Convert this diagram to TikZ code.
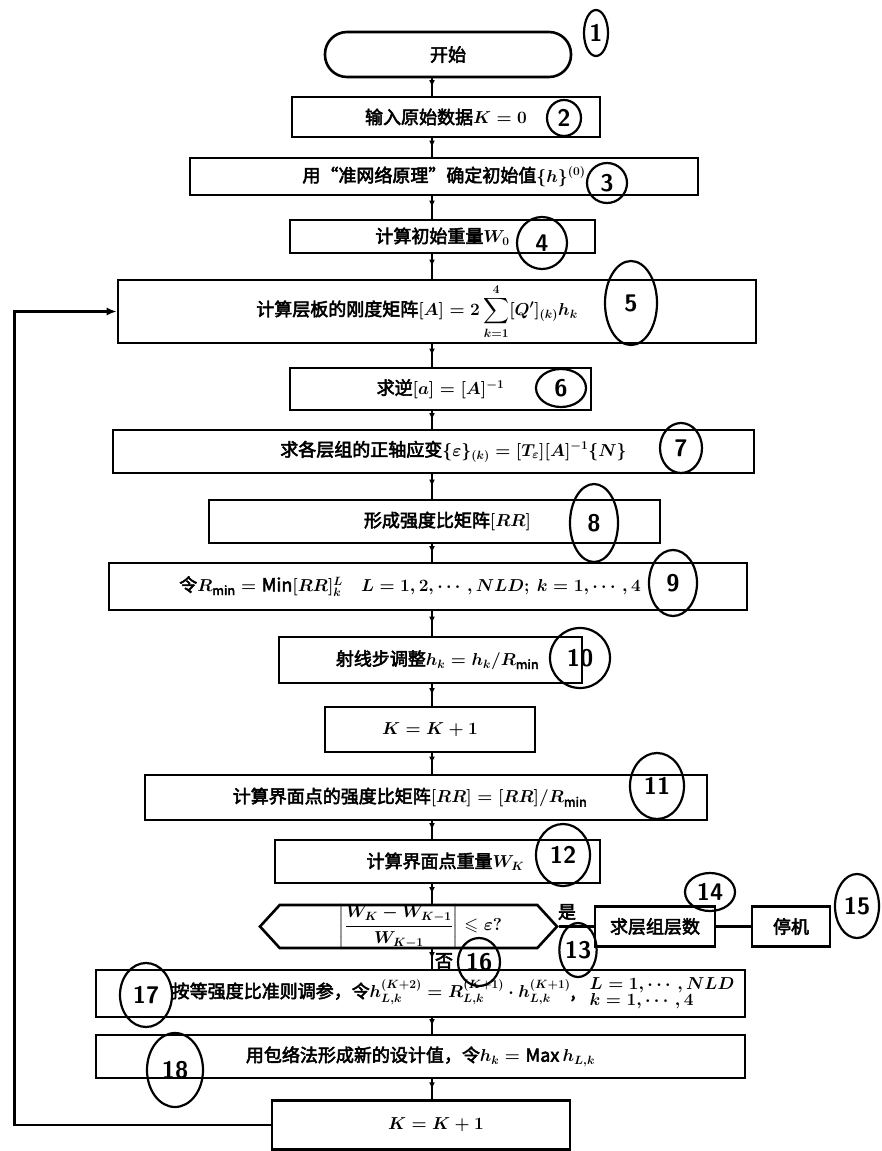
\documentclass[tikz,border=0pt]{standalone}
\usepackage{amsmath,amssymb}
\usepackage{fontspec}
\setmainfont{Noto Sans CJK SC}[BoldFont={Noto Sans CJK SC},BoldFeatures={FakeBold=3}]
\usetikzlibrary{
  arrows.meta,
  decorations.markings,
  shapes.geometric,
  shapes.symbols
}
\newcommand{\flowfont}{\bfseries\boldmath\fontsize{18}{20}\selectfont}
\newcommand{\annofont}{\sffamily\bfseries\fontsize{24}{24}\selectfont}
\tikzset{
  box/.style={draw, line width=2.6pt, inner sep=1pt, font=\flowfont, align=center},
  term/.style={box, rounded corners=22pt},
  judge/.style={box, signal, signal to=west and east, signal pointer angle=95},
  flow/.style={line width=2pt, postaction={decorate},
    decoration={markings, mark=at position 0.5 with {\arrow{Latex[length=7pt,width=6pt]}}}},
  back/.style={line width=2.6pt, -{Latex[length=10pt,width=8pt]}},
  link/.style={line width=2.6pt},
  anno/.style={draw, ellipse, line width=2.2pt, inner sep=0pt, font=\annofont},
  tag/.style={font=\flowfont, inner sep=1pt}
}

\begin{document}
\begin{tikzpicture}[x=1pt, y=-1pt]
\useasboundingbox (0,0) rectangle (881,1151);

% --- main column ---
\node[term, minimum width=246pt, minimum height=45pt] (start) at (448,54.5) {开始};
\node[box, minimum width=308pt, minimum height=40pt] (input) at (446,117) {输入原始数据$K=0$};
\node[box, minimum width=508pt, minimum height=37pt] (init) at (444,176.5)
  {用“准网络原理”确定初始值$\{h\}^{(0)}$};
\node[box, minimum width=305pt, minimum height=33pt] (weight0) at (442.5,236.5) {计算初始重量$W_0$};
\node[box, minimum width=638pt, minimum height=63pt] (stiff) at (437,311.5)
  {计算层板的刚度矩阵$[A]=2\displaystyle\sum_{k=1}^{4}[Q']_{(k)}h_k$\hspace*{40pt}};
\node[box, minimum width=301pt, minimum height=42pt] (inv) at (440.5,389) {求逆$[a]=[A]^{-1}$};
\node[box, minimum width=641pt, minimum height=43pt] (strain) at (433.5,451.5)
  {\hspace*{40pt}求各层组的正轴应变$\{\varepsilon\}_{(k)}=[T_\varepsilon][A]^{-1}\{N\}$};
\node[box, minimum width=451pt, minimum height=43pt] (ratio) at (434.5,521.5)
  {\hspace*{26pt}形成强度比矩阵$[RR]$};
\node[box, minimum width=638pt, minimum height=47pt] (rmin) at (428,586.5)
  {令$R_{\min}=\mathrm{Min}[RR]^{L}_{k}\quad L=1,2,\cdots,NLD;\ k=1,\cdots,4$\hspace*{36pt}};
\node[box, minimum width=303pt, minimum height=46pt] (ray) at (430.5,660)
  {\hspace*{14pt}射线步调整$h_k=h_k/R_{\min}$};
\node[box, minimum width=210pt, minimum height=45pt] (step1) at (430,729.5) {$K=K+1$};
\node[box, minimum width=562pt, minimum height=45pt] (ratioB) at (426,797.5)
  {计算界面点的强度比矩阵$[RR]=[RR]/R_{\min}$\hspace*{32pt}};
\node[box, minimum width=325pt, minimum height=43pt] (weightK) at (437.5,861.5)
  {\hspace*{16pt}计算界面点重量$W_K$};
\node[judge, minimum width=297pt, minimum height=43pt,
      label={[tag, xshift=12pt]center:{$\left|\dfrac{W_K-W_{K-1}}{W_{K-1}}\right|\leqslant\varepsilon?$}}]
  (conv) at (408.5,926.5) {};
\node[box, minimum width=120pt, minimum height=40pt] (layers) at (655,926.5) {求层组层数};
\node[box, minimum width=78pt, minimum height=40pt] (halt) at (791,926.5) {停机};
\node[box, minimum width=649pt, minimum height=47pt] (adjust) at (420.5,993.5)
  {\hspace*{70pt}按等强度比准则调参，令$h^{(K+2)}_{L,k}=R^{(K+1)}_{L,k}\cdot h^{(K+1)}_{L,k}$,\;
   $\begin{array}{l}L=1,\cdots,NLD\\[-4pt] k=1,\cdots,4\end{array}$};
\node[box, minimum width=649pt, minimum height=43pt] (envel) at (420.5,1056.5)
  {用包络法形成新的设计值，令$h_k=\mathrm{Max}\,h_{L,k}$};
\node[box, minimum width=298pt, minimum height=49pt] (step2) at (421,1125) {\hspace*{30pt}$K=K+1$};

% --- branch labels ---
\node[tag] (yes) at (567,912) {是};
\node[tag] (no) at (444,961) {否};

% --- connectors ---
\coordinate (colA) at (432,0);
\draw[flow] (start.south -| colA) -- (input.north -| colA);
\draw[flow] (input.south -| colA) -- (init.north -| colA);
\draw[flow] (init.south -| colA) -- (weight0.north -| colA);
\draw[flow] (weight0.south -| colA) -- (stiff.north -| colA);
\draw[flow] (stiff.south -| colA) -- (inv.north -| colA);
\draw[flow] (inv.south -| colA) -- (strain.north -| colA);
\draw[flow] (strain.south -| colA) -- (ratio.north -| colA);
\draw[flow] (ratio.south -| colA) -- (rmin.north -| colA);
\draw[flow] (rmin.south -| colA) -- (ray.north -| colA);
\draw[flow] (ray.south -| colA) -- (step1.north -| colA);
\draw[flow] (step1.south -| colA) -- (ratioB.north -| colA);
\draw[flow] (ratioB.south -| colA) -- (weightK.north -| colA);
\draw[flow] (weightK.south -| colA) -- (conv.north -| colA);
\draw[flow] (conv.south -| colA) -- (adjust.north -| colA);
\draw[flow] (adjust.south -| colA) -- (envel.north -| colA);
\draw[flow] (envel.south -| colA) -- (step2.north -| colA);
\draw[link] (conv.east) -- (layers.west);
\draw[link] (layers.east) -- (halt.west);
\draw[back] (step2.west) -- ++(-256,0) |- (stiff.west);

% --- handwritten step numbers ---
\node[anno, minimum width=24pt, minimum height=46pt] (n1) at (596,33) {1};
\node[anno, minimum width=34pt, minimum height=36pt] (n2) at (564,118) {2};
\node[anno, minimum width=40pt, minimum height=40pt] (n3) at (607,183) {3};
\node[anno, minimum width=50pt, minimum height=52pt] (n4) at (542,243) {4};
\node[anno, minimum width=52pt, minimum height=84pt] (n5) at (631,303) {5};
\node[anno, minimum width=50pt, minimum height=38pt] (n6) at (561,388) {6};
\node[anno, minimum width=42pt, minimum height=50pt] (n7) at (681,448) {7};
\node[anno, minimum width=48pt, minimum height=78pt] (n8) at (594,523) {8};
\node[anno, minimum width=48pt, minimum height=66pt] (n9) at (673,583) {9};
\node[anno, minimum width=60pt, minimum height=60pt] (n10) at (580,658) {10};
\node[anno, minimum width=54pt, minimum height=66pt] (n11) at (657,786) {11};
\node[anno, minimum width=54pt, minimum height=62pt] (n12) at (563,855) {12};
\node[anno, minimum width=36pt, minimum height=54pt] (n13) at (578,950) {13};
\node[anno, minimum width=50pt, minimum height=38pt] (n14) at (710,892) {14};
\node[anno, minimum width=44pt, minimum height=64pt] (n15) at (857,906) {15};
\node[anno, minimum width=42pt, minimum height=48pt] (n16) at (479,962) {16};
\node[anno, minimum width=52pt, minimum height=64pt] (n17) at (146,995) {17};
\node[anno, minimum width=56pt, minimum height=74pt] (n18) at (175,1070) {18};

\end{tikzpicture}
\end{document}
